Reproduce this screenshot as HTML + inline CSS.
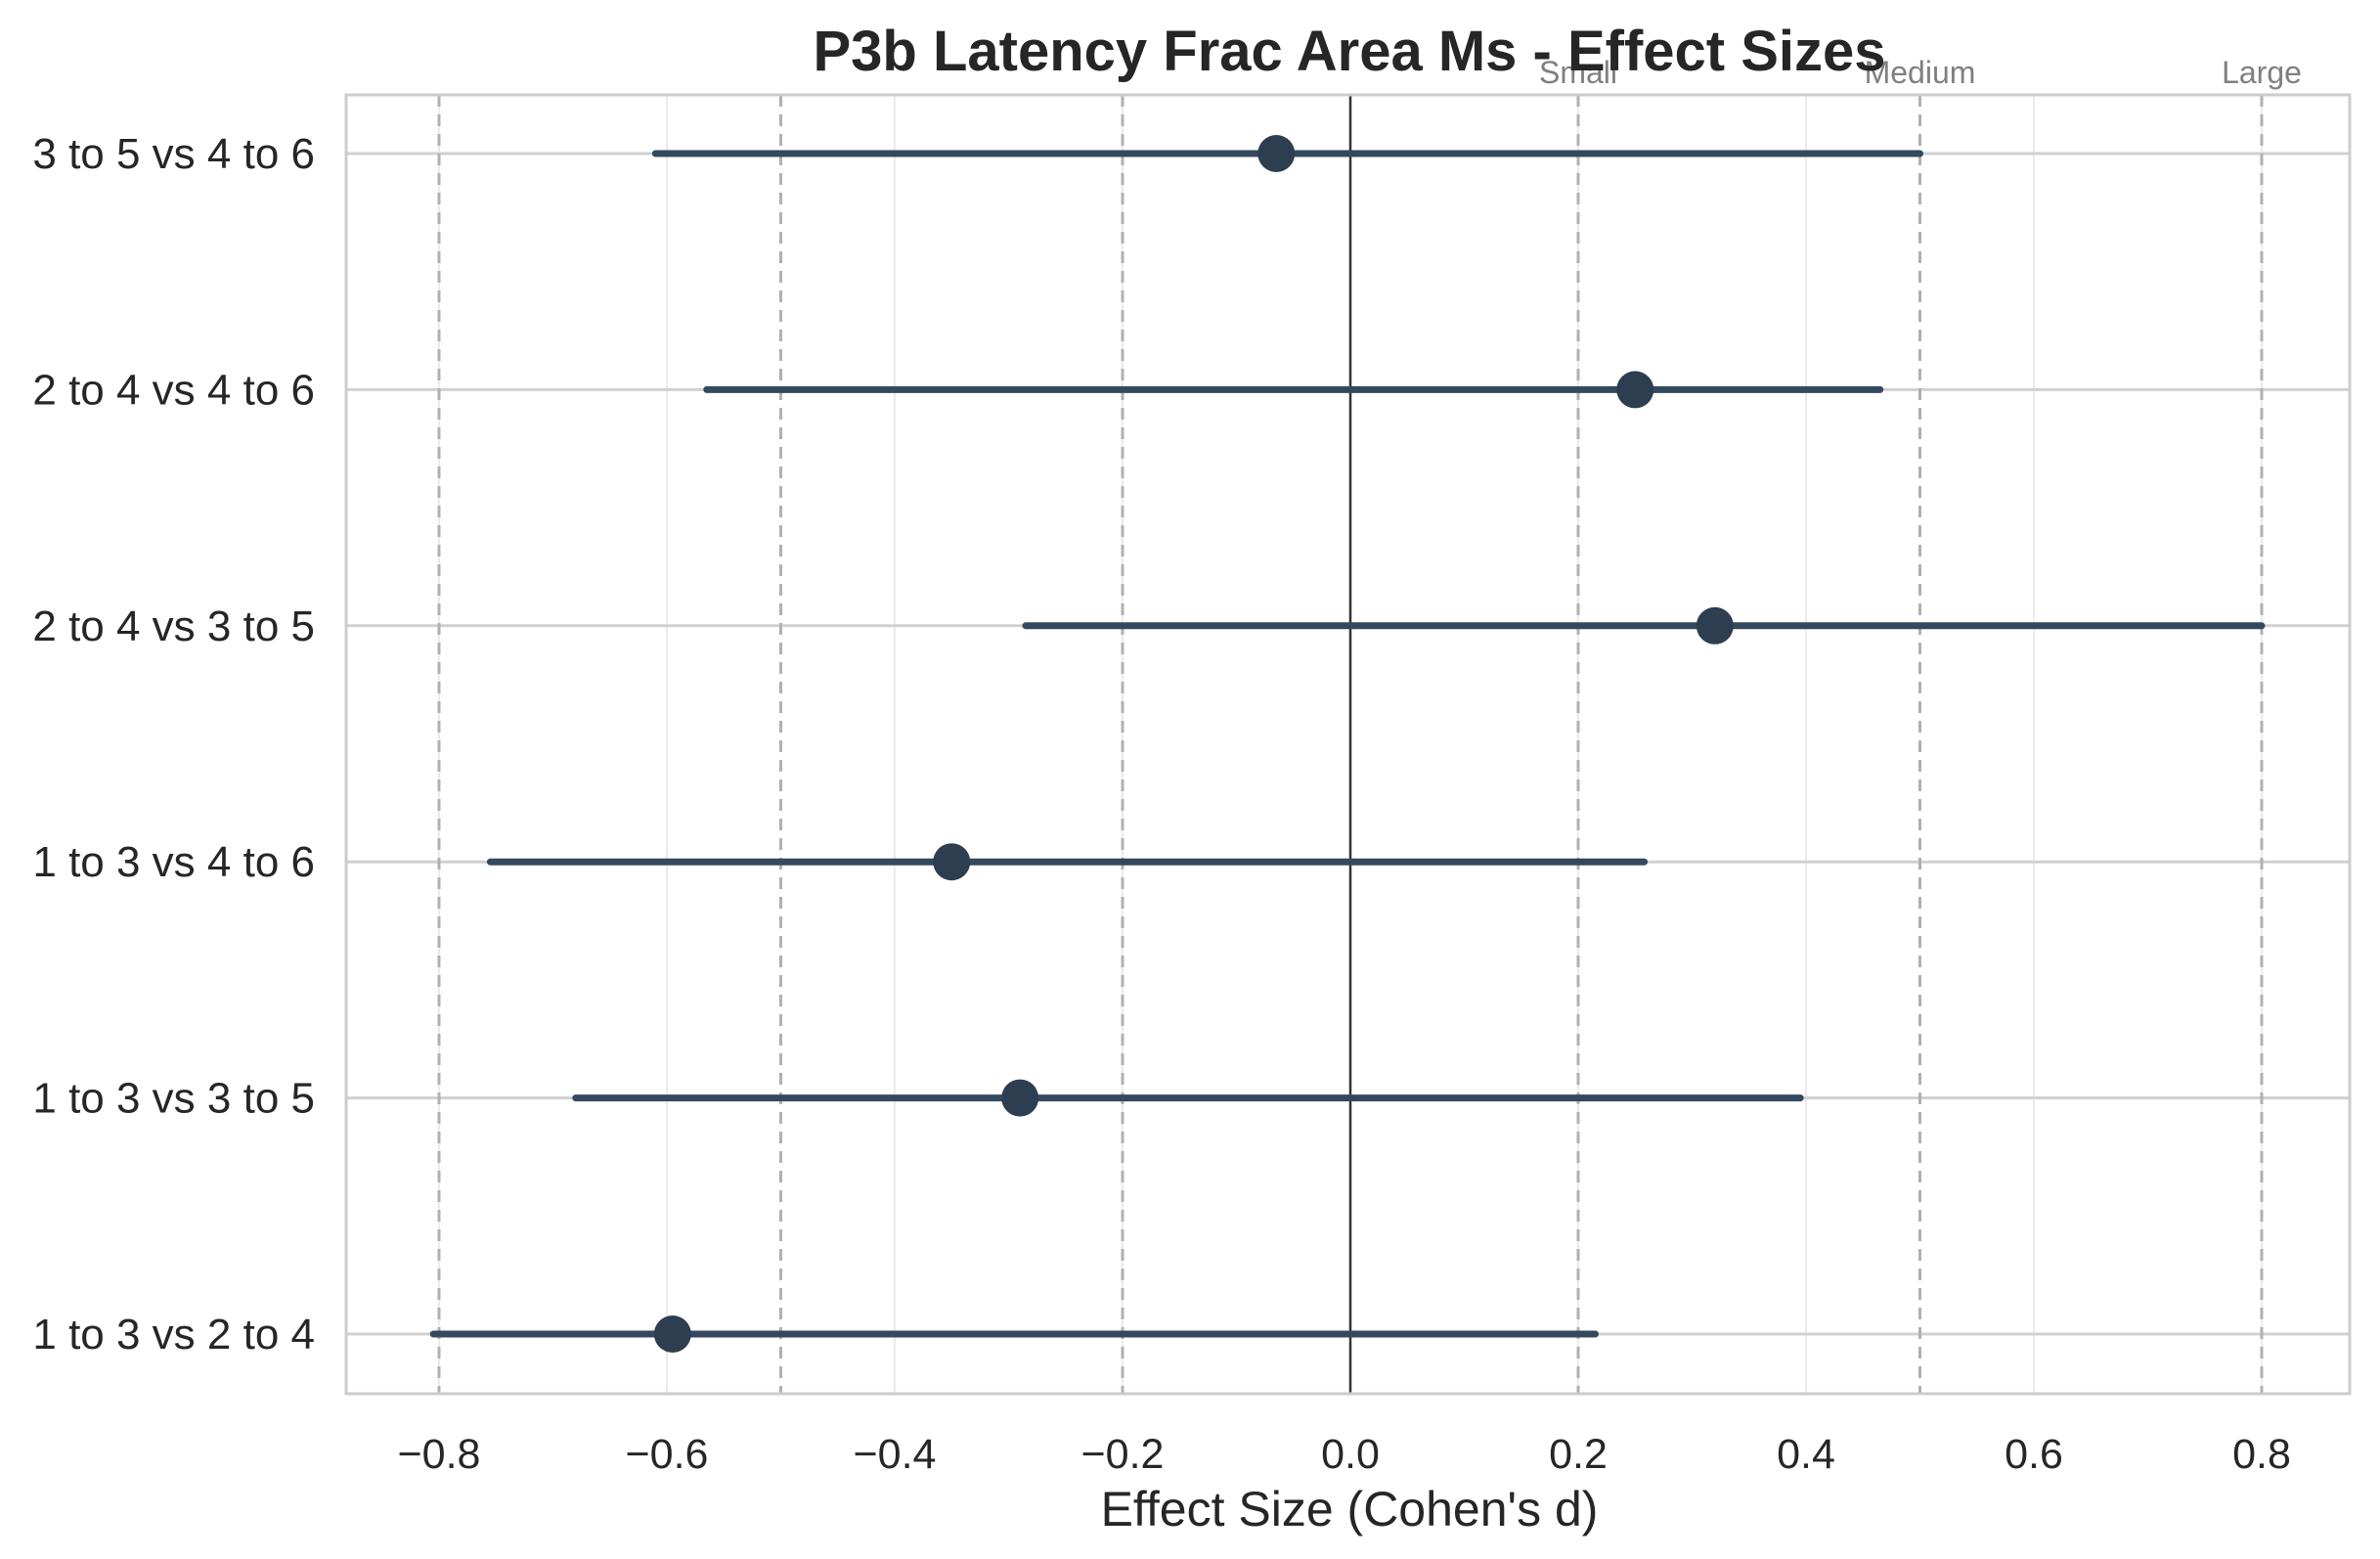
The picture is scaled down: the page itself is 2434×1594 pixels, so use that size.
<!DOCTYPE html>
<html><head><meta charset="utf-8"><style>
html,body{margin:0;padding:0;background:#fff;}
svg{display:block;font-family:"Liberation Sans",Arial,sans-serif;}
</style></head><body>
<svg id="chart" width="2434" height="1594" viewBox="0 0 2434 1594">
<rect x="0" y="0" width="2434" height="1594" fill="#fff"/>
<g id="grid"></g><g id="marks"></g><g id="labels"></g>
<rect x="354" y="97" width="2049" height="1328" fill="none" stroke="#cccccc" stroke-width="3"/>
<text x="1380" y="72" text-anchor="middle" font-size="58" font-weight="bold" fill="#262626">P3b Latency Frac Area Ms - Effect Sizes</text>
<text x="1380" y="1560" text-anchor="middle" font-size="50" fill="#262626">Effect Size (Cohen's d)</text>
</svg>
<script>
const categories = ["1 to 3 vs 2 to 4","1 to 3 vs 3 to 5","1 to 3 vs 4 to 6","2 to 4 vs 3 to 5","2 to 4 vs 4 to 6","3 to 5 vs 4 to 6"];
const effects = [-0.595,-0.29,-0.35,0.32,0.25,-0.065];
const ciLow = [-0.805,-0.68,-0.755,-0.285,-0.565,-0.61];
const ciHigh = [0.215,0.395,0.258,0.80,0.465,0.50];
const xTicks = [-0.8,-0.6,-0.4,-0.2,0.0,0.2,0.4,0.6,0.8];
const thresholds = [-0.8,-0.5,-0.2,0.2,0.5,0.8];
const thresholdLabels = ["Small","Medium","Large"];
const thresholdLabelVals = [0.2,0.5,0.8];

const NS="http://www.w3.org/2000/svg";
const L=354,R=2403,T=97,B=1425;
function xs(v){return 1381+v*1165;}
function ys(i){return 1364-i*241.4;}
function mk(tag,attrs,parent){const e=document.createElementNS(NS,tag);for(const k in attrs)e.setAttribute(k,attrs[k]);parent.appendChild(e);return e;}
const grid=document.getElementById('grid'),marks=document.getElementById('marks'),labels=document.getElementById('labels');
xTicks.forEach(v=>{
  const g=mk('line',{x1:xs(v),x2:xs(v),y1:T,y2:B,stroke:'#ebebeb','stroke-width':2},grid);
  
  
  const t=mk('text',{x:xs(v),y:1501,'text-anchor':'middle','font-size':43,fill:'#262626'},labels);
  t.textContent=(v<0?'\u2212':'')+Math.abs(v).toFixed(1);
  
  
});
categories.forEach((c,i)=>{
  const g=mk('line',{x1:L,x2:R,y1:ys(i),y2:ys(i),stroke:'#d0d0d0','stroke-width':3},grid);
  
  
  const t=mk('text',{x:322,y:ys(i)+15,'text-anchor':'end','font-size':44,fill:'#262626'},labels);
  t.textContent=c;
  
  
});
thresholds.forEach(v=>{
  const l=mk('line',{x1:xs(v),x2:xs(v),y1:T,y2:B,stroke:'#b0b0b0','stroke-width':3,'stroke-dasharray':'12,8'},grid);
  
  
});
thresholdLabelVals.forEach((v,i)=>{
  const t=mk('text',{x:xs(v),y:85,'text-anchor':'middle','font-size':32,fill:'#808080'},labels);
  t.textContent=thresholdLabels[i];
  
  
});
const z=mk('line',{x1:xs(0),x2:xs(0),y1:T,y2:B,stroke:'#333','stroke-width':2.5},grid);


categories.forEach((c,i)=>{
  const ci=mk('line',{x1:xs(ciLow[i]),x2:xs(ciHigh[i]),y1:ys(i),y2:ys(i),stroke:'#34495e','stroke-width':7,'stroke-linecap':'round'},marks);
  
  
  const p=mk('circle',{cx:xs(effects[i]),cy:ys(i),r:19,fill:'#2c3e50'},marks);
  
  
});
</script>
</body></html>
